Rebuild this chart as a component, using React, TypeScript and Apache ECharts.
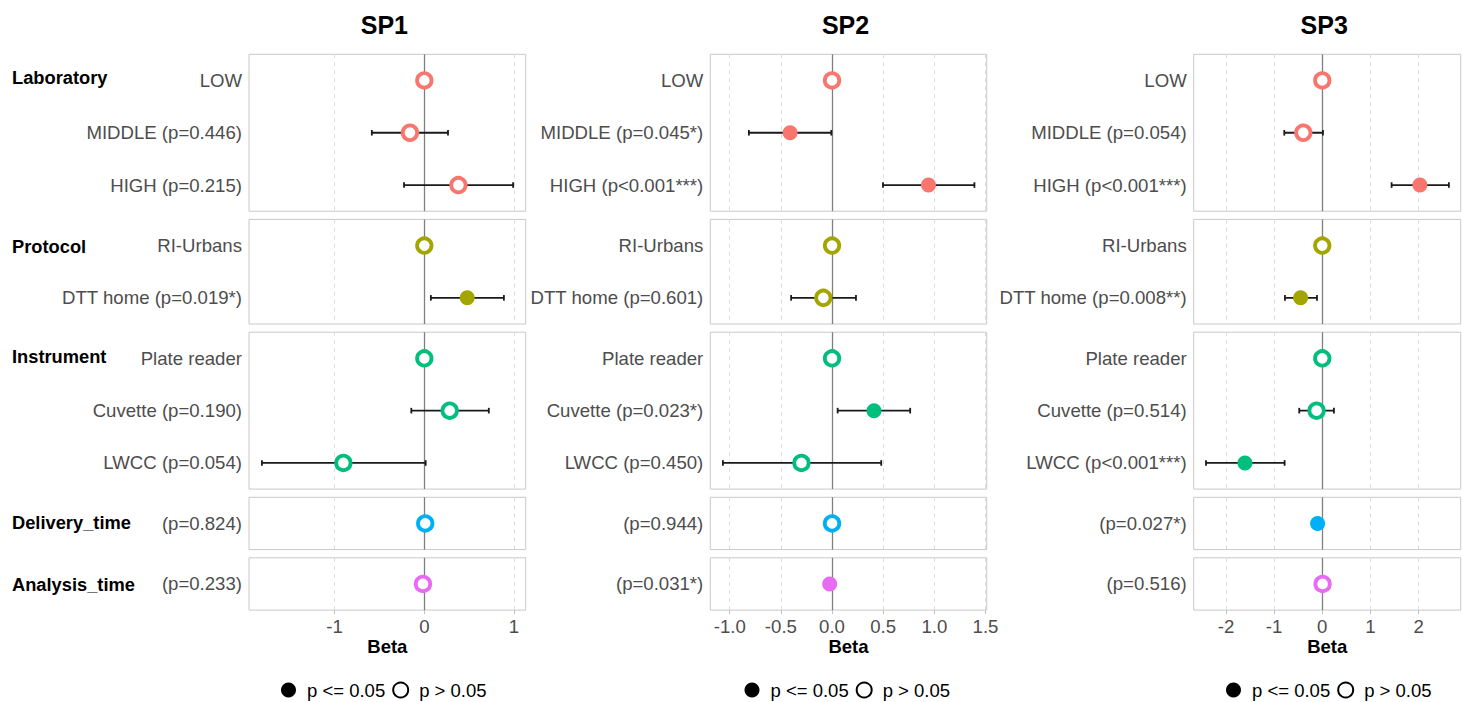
import React, { useEffect, useRef } from "react";
import * as echarts from "echarts";

// ---------- data ----------
const panelNames = ["SP1", "SP2", "SP3"];
const groupNames = ["Laboratory", "Protocol", "Instrument", "Delivery_time", "Analysis_time"];
const groupSizes = [3, 2, 3, 1, 1];
const groupColors = ["#F8766D", "#A3A500", "#00BF7D", "#00B0F6", "#E76BF3"];

const sp1Labels = ["LOW", "MIDDLE (p=0.446)", "HIGH (p=0.215)", "RI-Urbans", "DTT home (p=0.019*)", "Plate reader", "Cuvette (p=0.190)", "LWCC (p=0.054)", "(p=0.824)", "(p=0.233)"];
const sp1Beta = [0, -0.16, 0.38, 0, 0.478, 0, 0.283, -0.902, 0.01, -0.015];
const sp1Lower = [null, -0.585, -0.226, null, 0.073, null, -0.145, -1.81, null, null];
const sp1Upper = [null, 0.264, 0.99, null, 0.887, null, 0.719, 0.015, null, null];
const sp1Signif = [false, false, false, false, true, false, false, false, false, false];

const sp2Labels = ["LOW", "MIDDLE (p=0.045*)", "HIGH (p<0.001***)", "RI-Urbans", "DTT home (p=0.601)", "Plate reader", "Cuvette (p=0.023*)", "LWCC (p=0.450)", "(p=0.944)", "(p=0.031*)"];
const sp2Beta = [0, -0.41, 0.943, 0, -0.085, 0, 0.41, -0.299, 0, -0.023];
const sp2Lower = [null, -0.813, 0.498, null, -0.4, null, 0.055, -1.067, null, null];
const sp2Upper = [null, -0.007, 1.392, null, 0.234, null, 0.764, 0.481, null, null];
const sp2Signif = [false, true, true, false, false, false, true, false, false, true];

const sp3Labels = ["LOW", "MIDDLE (p=0.054)", "HIGH (p<0.001***)", "RI-Urbans", "DTT home (p=0.008**)", "Plate reader", "Cuvette (p=0.514)", "LWCC (p<0.001***)", "(p=0.027*)", "(p=0.516)"];
const sp3Beta = [0, -0.394, 2.028, 0, -0.45, 0, -0.118, -1.606, -0.097, 0.007];
const sp3Lower = [null, -0.789, 1.44, null, -0.775, null, -0.478, -2.415, null, null];
const sp3Upper = [null, 0.014, 2.63, null, -0.11, null, 0.242, -0.782, null, null];
const sp3Signif = [false, false, true, false, true, false, false, true, true, false];

const sp1Ticks = [-1, 0, 1];
const sp2Ticks = [-1, -0.5, 0, 0.5, 1, 1.5];
const sp3Ticks = [-2, -1, 0, 1, 2];
const xMins = [-1.954, -1.19, -2.67];
const xMaxs = [1.13, 1.512, 2.875];

const legendNames = ["p <= 0.05", "p > 0.05"];

// ---------- layout ----------
const FONT = "'Liberation Sans', Arial, Helvetica, sans-serif";
const panelX = [
  [249, 525.7],
  [710.3, 986.7],
  [1193.7, 1460.7],
];
const TOP0 = 54.3;
const ROW_H = 52.3;
const GAP = 8.2;
const LABEL_SIZE = 18.6;

function buildOption() {
  const labels = [sp1Labels, sp2Labels, sp3Labels];
  const betas = [sp1Beta, sp2Beta, sp3Beta];
  const lowers = [sp1Lower, sp2Lower, sp3Lower];
  const uppers = [sp1Upper, sp2Upper, sp3Upper];
  const signifs = [sp1Signif, sp2Signif, sp3Signif];
  const ticks = [sp1Ticks, sp2Ticks, sp3Ticks];

  const grids: any[] = [];
  const xAxes: any[] = [];
  const yAxes: any[] = [];
  const series: any[] = [];
  const graphics: any[] = [];

  const tops: number[] = [];
  let t = TOP0;
  groupSizes.forEach((n) => {
    tops.push(t);
    t += n * ROW_H + GAP;
  });

  for (let p = 0; p < 3; p++) {
    let start = 0;
    for (let g = 0; g < groupSizes.length; g++) {
      const n = groupSizes[g];
      const gi = p * groupSizes.length + g;
      const isBottom = g === groupSizes.length - 1;
      grids.push({
        left: panelX[p][0],
        top: tops[g],
        width: panelX[p][1] - panelX[p][0],
        height: n * ROW_H,
        show: true,
        borderColor: "#c9c9c9",
        borderWidth: 1,
        backgroundColor: "transparent",
        containLabel: false,
        outerBoundsMode: "none",
      });
      xAxes.push({
        type: "value",
        gridIndex: gi,
        min: xMins[p],
        max: xMaxs[p],
        axisLine: { show: false },
        axisTick: {
          show: isBottom,
          customValues: ticks[p],
          length: 4,
          lineStyle: { color: "#c0c0c0", width: 1 },
        },
        axisLabel: {
          show: isBottom,
          customValues: ticks[p],
          fontSize: LABEL_SIZE,
          color: "#4d4d4d",
          fontFamily: FONT,
          margin: 7,
          formatter: (v: number) => (p === 1 ? v.toFixed(1) : String(v)),
        },
        splitLine: {
          show: true,
          lineStyle: { color: "#dddddd", type: [4, 4], width: 1 },
        },
        name: isBottom ? "Beta" : "",
        nameLocation: "middle",
        nameGap: 27,
        nameTextStyle: { fontSize: 18.5, fontWeight: "bold", color: "#000", fontFamily: FONT },
      });
      const cats = labels[p].slice(start, start + n);
      yAxes.push({
        type: "category",
        gridIndex: gi,
        data: cats,
        inverse: true,
        axisLine: { show: false },
        axisTick: { show: false },
        splitLine: { show: false },
        axisLabel: { fontSize: LABEL_SIZE, color: "#4d4d4d", fontFamily: FONT, margin: 7 },
      });

      const color = groupColors[g];
      const errData: any[] = [];
      const ptData: any[] = [];
      for (let i = 0; i < n; i++) {
        const k = start + i;
        const lo = lowers[p][k];
        const hi = uppers[p][k];
        if (lo !== null && hi !== null) errData.push([lo, hi, i]);
        const sig = signifs[p][k];
        ptData.push({
          value: [betas[p][k], i],
          symbolSize: sig ? 15 : 14.5,
          itemStyle: sig
            ? { color, borderWidth: 0, opacity: 1 }
            : { color: "#ffffff", borderColor: color, borderWidth: 3.8, opacity: 1 },
        });
      }

      if (errData.length) {
        series.push({
          type: "custom",
          xAxisIndex: gi,
          yAxisIndex: gi,
          z: 2,
          silent: true,
          dimensions: ["lo", "hi", "row"],
          encode: { x: [0, 1], y: 2 },
          data: errData,
          renderItem: (params: any, api: any) => {
            const a = api.coord([api.value(0), api.value(2)]);
            const b = api.coord([api.value(1), api.value(2)]);
            const cap = 2.8;
            const st = { stroke: "#1a1a1a", lineWidth: 1.8 };
            return {
              type: "group",
              children: [
                { type: "line", shape: { x1: a[0], y1: a[1], x2: b[0], y2: b[1] }, style: st },
                { type: "line", shape: { x1: a[0], y1: a[1] - cap, x2: a[0], y2: a[1] + cap }, style: st },
                { type: "line", shape: { x1: b[0], y1: b[1] - cap, x2: b[0], y2: b[1] + cap }, style: st },
              ],
            };
          },
        });
      }
      series.push({
        type: "scatter",
        xAxisIndex: gi,
        yAxisIndex: gi,
        z: 3,
        silent: true,
        symbol: "circle",
        itemStyle: { opacity: 1 },
        data: ptData,
        markLine: {
          silent: true,
          z: 1,
          symbol: ["none", "none"],
          label: { show: false },
          lineStyle: { color: "#7f7f7f", width: 1.3, type: "solid", opacity: 1 },
          data: [{ xAxis: 0 }],
        },
      });

      start += n;
    }
  }

  // series only for the legend entries
  series.push({
    type: "scatter",
    name: legendNames[0],
    xAxisIndex: 0,
    yAxisIndex: 0,
    data: [[-99, 0]],
    symbolSize: 0,
    itemStyle: { color: "#000", opacity: 1 },
  });
  series.push({
    type: "scatter",
    name: legendNames[1],
    xAxisIndex: 0,
    yAxisIndex: 0,
    data: [[-99, 0]],
    symbolSize: 0,
    itemStyle: { color: "#fff", borderColor: "#000", borderWidth: 3.6, opacity: 1 },
  });

  const groupLabelY = [77, 246, 356, 522, 584];
  groupNames.forEach((name, g) => {
    graphics.push({
      type: "text",
      x: 12,
      y: groupLabelY[g],
      silent: true,
      style: {
        text: name,
        fontSize: 18.3,
        fontWeight: "bold",
        fontFamily: FONT,
        fill: "#000",
        verticalAlign: "middle",
        align: "left",
      },
    });
  });

  const titles = panelNames.map((name, p) => ({
    text: name,
    left: (panelX[p][0] + panelX[p][1]) / 2 - 3,
    top: 12,
    textAlign: "center",
    padding: 0,
    textStyle: { fontSize: 25, fontWeight: "bold", color: "#000", fontFamily: FONT },
  }));

  const legendLefts = [281, 744.5, 1226];
  const legends = legendLefts.map((l) => ({
    data: legendNames,
    left: l,
    top: 680.5,
    padding: 0,
    itemWidth: 27,
    itemHeight: 15,
    itemGap: 7,
    icon: "circle",
    selectedMode: false,
    textStyle: { fontSize: 18.5, color: "#000", fontFamily: FONT },
  }));

  return {
    animation: false,
    backgroundColor: "#ffffff",
    textStyle: { fontFamily: FONT },
    title: titles,
    legend: legends,
    grid: grids,
    xAxis: xAxes,
    yAxis: yAxes,
    series,
    graphic: graphics,
  };
}

export default function App() {
  const ref = useRef<HTMLDivElement>(null);
  useEffect(() => {
    if (!ref.current) return;
    const chart = echarts.init(ref.current, undefined, { renderer: "svg" });
    chart.setOption(buildOption() as any);
    return () => chart.dispose();
  }, []);
  return (
    <div
      ref={ref}
      style={{ position: "fixed", left: 0, top: 0, width: 1462, height: 702, background: "#fff" }}
    />
  );
}
